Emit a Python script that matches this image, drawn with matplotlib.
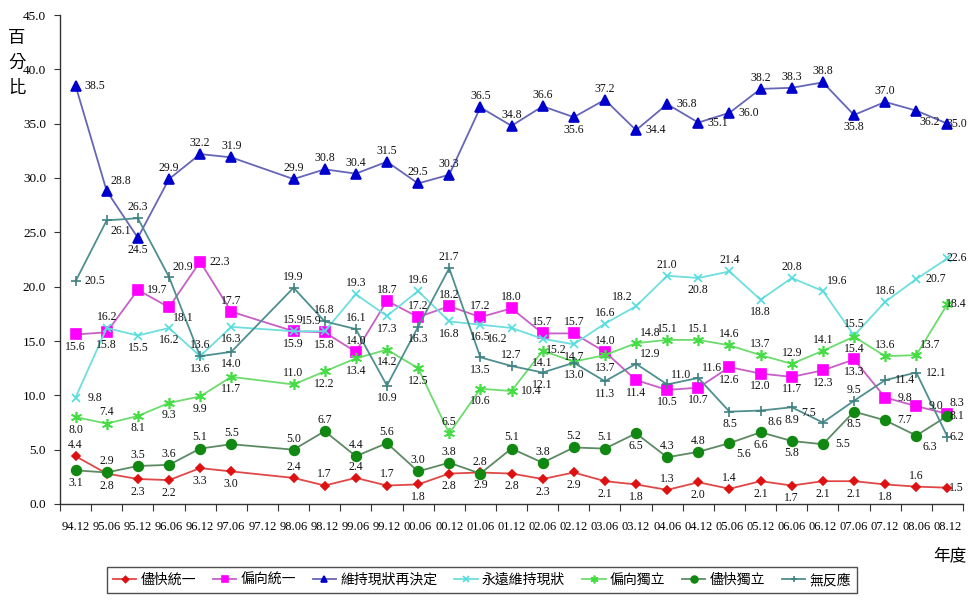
import matplotlib
matplotlib.use("Agg")
import matplotlib.pyplot as plt
import numpy as np

categories = ["94.12", "95.06", "95.12", "96.06", "96.12", "97.06", "97.12", "98.06",
              "98.12", "99.06", "99.12", "00.06", "00.12", "01.06", "01.12", "02.06",
              "02.12", "03.06", "03.12", "04.06", "04.12", "05.06", "05.12", "06.06",
              "06.12", "07.06", "07.12", "08.06", "08.12"]

N = None
unify_asap = [4.4, 2.8, 2.3, 2.2, 3.3, 3.0, N, 2.4, 1.7, 2.4, 1.7, 1.8, 2.8, 2.9, 2.8, 2.3,
              2.9, 2.1, 1.8, 1.3, 2.0, 1.4, 2.1, 1.7, 2.1, 2.1, 1.8, 1.6, 1.5]
lean_unify = [15.6, 15.8, 19.7, 18.1, 22.3, 17.7, N, 15.9, 15.8, 14.0, 18.7, 17.2, 18.2, 17.2,
              18.0, 15.7, 15.7, 14.0, 11.4, 10.5, 10.7, 12.6, 12.0, 11.7, 12.3, 13.3, 9.8, 9.0, 8.3]
status_quo_decide = [38.5, 28.8, 24.5, 29.9, 32.2, 31.9, N, 29.9, 30.8, 30.4, 31.5, 29.5, 30.3,
                     36.5, 34.8, 36.6, 35.6, 37.2, 34.4, 36.8, 35.1, 36.0, 38.2, 38.3, 38.8,
                     35.8, 37.0, 36.2, 35.0]
status_quo_forever = [9.8, 16.2, 15.5, 16.2, 13.6, 16.3, N, 15.9, 15.9, 19.3, 17.3, 19.6, 16.8,
                      16.5, 16.2, 15.2, 14.7, 16.6, 18.2, 21.0, 20.8, 21.4, 18.8, 20.8, 19.6,
                      15.5, 18.6, 20.7, 22.6]
lean_indep = [8.0, 7.4, 8.1, 9.3, 9.9, 11.7, N, 11.0, 12.2, 13.4, 14.2, 12.5, 6.5, 10.6, 10.4,
              14.1, 13.1, 13.7, 14.8, 15.1, 15.1, 14.6, 13.7, 12.9, 14.1, 15.4, 13.6, 13.7, 18.4]
indep_asap = [3.1, 2.9, 3.5, 3.6, 5.1, 5.5, N, 5.0, 6.7, 4.4, 5.6, 3.0, 3.8, 2.8, 5.1, 3.8,
              5.2, 5.1, 6.5, 4.3, 4.8, 5.6, 6.6, 5.8, 5.5, 8.5, 7.7, 6.3, 8.1]
no_response = [20.5, 26.1, 26.3, 20.9, 13.6, 14.0, N, 19.9, 16.8, 16.1, 10.9, 16.3, 21.7, 13.5,
               12.7, 12.1, 13.0, 11.3, 12.9, 11.0, 11.6, 8.5, 8.6, 8.9, 7.5, 9.5, 11.4, 12.1, 6.2]

series_names = ["儘快統一", "偏向統一", "維持現狀再決定", "永遠維持現狀", "偏向獨立", "儘快獨立", "無反應"]

# label placement codes (one per category)
pos_unify_asap = ['a','b','b','b','b','b','',
                  'a','a','a','a','b','b','b','b','b','b','b','b','a','b','a','b','b','b','b','b','a','R']
pos_lean_unify = ['b','b','r','br','r','a','',
                  'a','b','a','a','a','a','a','a','a','a','a','b','b','b','b','b','b','b','b','r','r','AR']
pos_sq_decide = ['r','ar','b','a','a','a','',
                 'a','a','a','a','a','a','a','a','a','b','a','r','r','r','r','a','a','a','b','a','br','R']
pos_sq_forever = ['r','a','b','b','a','b','',
                  'b','al','a','b','a','b','b','bl','br','b','a','al','a','b','a','b','a','ar','a','a','r','R']
pos_lean_indep = ['b','a','b','b','b','b','',
                  'a','b','b','b','b','a','b','r','b','','b','ar','a','a','a','a','a','a','b','a','ar','R']
pos_indep_asap = ['b','a','a','a','a','a','',
                  'a','a','a','a','a','a','a','a','a','a','a','b','a','a','br','b','b','r','b','r','br','R']
pos_no_resp = ['r','br','a','ar','b','b','',
               'a','a','a','b','b','a','b','a','b','b','b','ar','ar','ar','b','br','b','al','a','r','r','R']

offsets = {'a': (0, 8), 'b': (0, -9), 'r': (14, 0), 'l': (-14, 0),
           'ar': (10, 7), 'br': (10, -8), 'al': (-10, 7), 'bl': (-10, -8),
           'R': (6.5, 0), 'AR': (6.5, 8)}

styles = [
    dict(data=unify_asap, pos=pos_unify_asap, lc='#e04848', mc='#dd1111', m='D', ms=4.5),
    dict(data=lean_unify, pos=pos_lean_unify, lc='#c75fc7', mc='#ff00ff', m='s', ms=7),
    dict(data=status_quo_decide, pos=pos_sq_decide, lc='#6666b8', mc='#0000cc', m='^', ms=7),
    dict(data=status_quo_forever, pos=pos_sq_forever, lc='#6fdede', mc='#55dddd', m='x', ms=6),
    dict(data=lean_indep, pos=pos_lean_indep, lc='#6ddc6d', mc='#44dd44', m=(6, 2, 0), ms=8),
    dict(data=indep_asap, pos=pos_indep_asap, lc='#5d8a63', mc='#118811', m='o', ms=7),
    dict(data=no_response, pos=pos_no_resp, lc='#4f8f8f', mc='#3f8080', m='+', ms=7),
]

cjk = ['Noto Sans CJK TC', 'DejaVu Sans']
num_font = 'Liberation Serif'

fig = plt.figure(figsize=(9.68, 6.01), dpi=100)
ax = fig.add_axes([60/968, 97/601, 903/968, 489/601])

handles = []
for name, st in zip(series_names, styles):
    xs = [i for i, v in enumerate(st['data']) if v is not None]
    ys = [v for v in st['data'] if v is not None]
    h, = ax.plot(xs, ys, color=st['lc'], lw=1.3, marker=st['m'], ms=st['ms'],
                 markerfacecolor=st['mc'], markeredgecolor=st['mc'], mew=1.2, label=name)
    handles.append(h)
    for i, v in enumerate(st['data']):
        if v is None or not st['pos'][i]:
            continue
        dx, dy = offsets[st['pos'][i]]
        ax.annotate(f"{v:.1f}", (i, v), xytext=(dx, dy), textcoords='offset points',
                    ha='center', va='center', fontsize=8.5, family=num_font, color='#111111',
                    annotation_clip=False)

ax.set_xlim(-0.5, len(categories) - 0.5)
ax.set_ylim(0, 45)
ax.set_yticks(np.arange(0, 45.1, 5))
ax.set_yticklabels([f"{t:.1f}" for t in np.arange(0, 45.1, 5)], family=num_font, fontsize=9.5)
ax.set_xticks(np.arange(-0.5, len(categories), 1))
ax.set_xticklabels([])
ax.set_xticks(np.arange(len(categories)), minor=True)
ax.set_xticklabels(categories, minor=True, family=num_font, fontsize=9)
ax.tick_params(axis='x', which='major', direction='out', length=5, color='#333333')
ax.tick_params(axis='x', which='minor', length=0, pad=12)
ax.tick_params(axis='y', direction='out', length=4, color='#333333', pad=6)
for s in ['top', 'right']:
    ax.spines[s].set_visible(False)
for s in ['left', 'bottom']:
    ax.spines[s].set_color('#333333')
    ax.spines[s].set_linewidth(1.0)

fig.text(17/968, 1 - 63/601, "百\n分\n比", ha='center', va='center', fontsize=12.5,
         family=cjk, linespacing=1.5)
fig.text(950/968, 1 - 556/601, "年度", ha='center', va='center', fontsize=12, family=cjk)

leg = fig.legend(handles=handles, loc='center', bbox_to_anchor=(482/968, 1 - 580/601),
                 ncol=7, frameon=True, fancybox=False, prop={'family': cjk, 'size': 10},
                 handlelength=1.7, handletextpad=0.3, columnspacing=1.2, borderpad=0.45,
                 markerscale=0.7)
leg.get_frame().set_edgecolor('#222222')
leg.get_frame().set_linewidth(1.0)

fig.savefig("out.png", dpi=100, facecolor='white')
